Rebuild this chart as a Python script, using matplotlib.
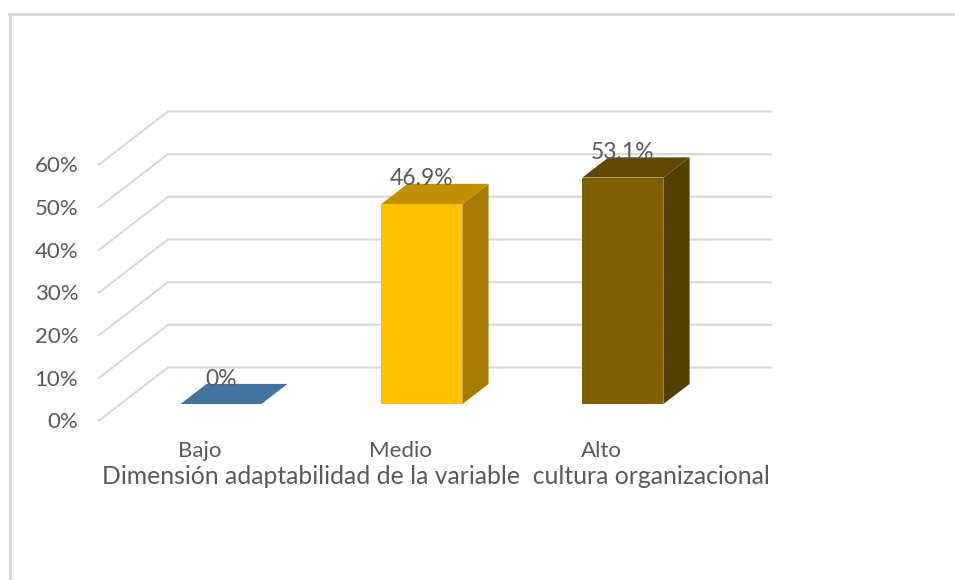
import matplotlib
matplotlib.use("Agg")
import matplotlib.pyplot as plt
from matplotlib.lines import Line2D
from matplotlib.patches import Polygon

categorias = ["Bajo", "Medio", "Alto"]
valores = [0, 46.9, 53.1]
etiquetas = ["0%", "46.9%", "53.1%"]
ticks_y = [0, 10, 20, 30, 40, 50, 60]
titulo_x = "Dimensión adaptabilidad de la variable  cultura organizacional"

col_frente = ["#44749d", "#ffc000", "#7f6000"]
col_arriba = ["#44749d", "#c09000", "#604800"]
col_lado = ["#44749d", "#a67c00", "#523f00"]

GRIS = "#d9d9d9"
TEXTO = "#595959"
W, H = 955, 580

# desplazamiento oblicuo de la caja 3D, en unidades de los ejes
PROF_X = 0.343
PROF_Y = 12.42
ANCHO = 0.403
P0, P1 = 0.31, 0.69

plt.rcParams["font.family"] = ["Lato", "DejaVu Sans"]


def proy(x, y, p):
    return (x + p * PROF_X, y + p * PROF_Y)


fig = plt.figure(figsize=(W / 100, H / 100), dpi=100, facecolor="white")
ax = fig.add_axes([99 / W, (H - 420.5) / H, 603 / W, 256 / H])
ax.set_xlim(-0.5, 2.5)
ax.set_ylim(0, 60)
for s in ax.spines.values():
    s.set_visible(False)

# rejilla: pared del fondo y piso lateral
for t in ticks_y:
    a = proy(-0.5, t, 0)
    b = proy(-0.5, t, 1)
    c = proy(2.5, t, 1)
    ax.plot([a[0], b[0], c[0]], [a[1], b[1], c[1]], color=GRIS, lw=1.5,
            clip_on=False, zorder=1, solid_joinstyle="miter")

for i, v in enumerate(valores):
    x0, x1 = i - ANCHO / 2, i + ANCHO / 2
    frente = [proy(x0, 0, P0), proy(x1, 0, P0), proy(x1, v, P0), proy(x0, v, P0)]
    arriba = [proy(x0, v, P0), proy(x1, v, P0), proy(x1, v, P1), proy(x0, v, P1)]
    lado = [proy(x1, 0, P0), proy(x1, 0, P1), proy(x1, v, P1), proy(x1, v, P0)]
    ax.add_patch(Polygon(lado, color=col_lado[i], lw=0, clip_on=False, zorder=2))
    ax.add_patch(Polygon(arriba, color=col_arriba[i], lw=0, clip_on=False, zorder=2))
    ax.add_patch(Polygon(frente, color=col_frente[i], lw=0, clip_on=False, zorder=3))
    ax.annotate(etiquetas[i], proy(i, v, P0), xytext=(0, 18),
                textcoords="offset points", ha="center", va="center",
                fontsize=16.5, color=TEXTO, annotation_clip=False, zorder=5)

ax.set_yticks(ticks_y)
ax.set_yticklabels([str(t) + "%" for t in ticks_y], fontsize=16, color=TEXTO)
ax.set_xticks(range(len(categorias)))
ax.set_xticklabels(categorias, fontsize=16, color=TEXTO)
ax.tick_params(axis="both", length=0)
ax.tick_params(axis="y", pad=15)
ax.tick_params(axis="x", pad=15)
ax.set_xlabel(titulo_x, fontsize=17.8, color=TEXTO, va="center")
ax.xaxis.set_label_coords((436 - 99) / 603, -(476 - 420) / 256)

# marco gris del grafico, arriba y a la izquierda
fig.add_artist(Line2D([9.5 / W, 9.5 / W], [0, 1 - 13.5 / H], color=GRIS, lw=2))
fig.add_artist(Line2D([8.5 / W, 1], [1 - 13.5 / H, 1 - 13.5 / H], color=GRIS, lw=2))

fig.savefig("out.png", dpi=100)
